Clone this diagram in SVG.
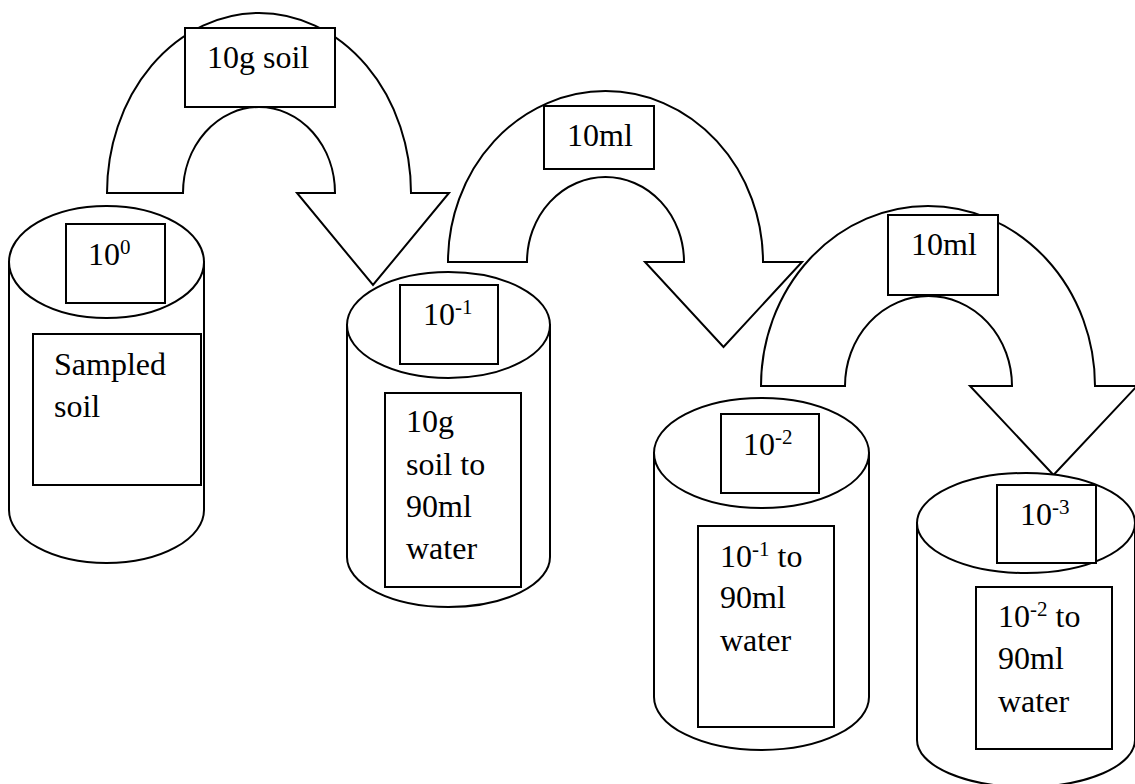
<svg xmlns="http://www.w3.org/2000/svg" width="1135" height="784" viewBox="0 0 1135 784">
<style>
.s{fill:#fff;stroke:#000;stroke-width:2}
.t{font-family:"Liberation Serif","Times New Roman",serif;font-size:32px;fill:#000}
.sup{font-size:21px}
</style>
<rect width="1135" height="784" fill="#fff"/>
<g id="connectors">
<path class="s" d="M107,193 A152,180 0 0 1 411,193 L449,193 L373,285 L297,193 L335,193 A76,86 0 0 0 183,193 Z"/>
<path class="s" d="M448,262 A157.5,171 0 0 1 763,262 L802,262 L723.5,347 L645,262 L684,262 A78.5,85 0 0 0 527,262 Z"/>
<path class="s" d="M761,386 A167,180 0 0 1 1095,386 L1137,386 L1053.5,475 L970,386 L1012,386 A83.5,90 0 0 0 845,386 Z"/>
</g>
<g id="label-10g-soil">
<rect class="s" x="185" y="28" width="150" height="79"/>
<text class="t" x="207" y="68">10g soil</text>
</g>
<g id="label-10ml-1">
<rect class="s" x="544" y="106" width="110" height="63"/>
<text class="t" x="567" y="146">10ml</text>
</g>
<g id="label-10ml-2">
<rect class="s" x="888" y="215" width="110" height="80"/>
<text class="t" x="911" y="255">10ml</text>
</g>
<g id="cyl1">
<path class="s" d="M9,262 L9,510 A97.5,53 0 0 0 204,510 L204,262 Z"/>
<ellipse class="s" cx="106.5" cy="262" rx="97.5" ry="56"/>
<rect class="s" x="66" y="224" width="99" height="79"/>
<text class="t" x="88" y="265">10<tspan class="sup" dy="-11">0</tspan></text>
<rect class="s" x="33" y="334" width="168" height="151"/>
<text class="t" x="54" y="375">Sampled</text>
<text class="t" x="54" y="417">soil</text>
</g>
<g id="cyl2">
<path class="s" d="M347,325 L347,557 A101.5,50 0 0 0 550,557 L550,325 Z"/>
<ellipse class="s" cx="448.5" cy="325" rx="101.5" ry="53"/>
<rect class="s" x="400" y="285" width="98" height="79"/>
<text class="t" x="423" y="325">10<tspan class="sup" dy="-11">-1</tspan></text>
<rect class="s" x="385" y="393" width="136" height="194"/>
<text class="t" x="406" y="432">10g</text>
<text class="t" x="406" y="475">soil to</text>
<text class="t" x="406" y="517">90ml</text>
<text class="t" x="406" y="559">water</text>
</g>
<g id="cyl3">
<path class="s" d="M654,453 L654,697 A107.5,53 0 0 0 869,697 L869,453 Z"/>
<ellipse class="s" cx="761.5" cy="453" rx="107.5" ry="55"/>
<rect class="s" x="721" y="414" width="98" height="79"/>
<text class="t" x="743" y="455">10<tspan class="sup" dy="-11">-2</tspan></text>
<rect class="s" x="698" y="526" width="136" height="201"/>
<text class="t" x="720" y="567">10<tspan class="sup" dy="-11">-1</tspan><tspan dy="11"> to</tspan></text>
<text class="t" x="720" y="608">90ml</text>
<text class="t" x="720" y="651">water</text>
</g>
<g id="cyl4">
<path class="s" d="M917,523 L917,740 A109,47 0 0 0 1135,740 L1135,523 Z"/>
<ellipse class="s" cx="1026" cy="523" rx="109" ry="50"/>
<rect class="s" x="997" y="485" width="99" height="78"/>
<text class="t" x="1020" y="525">10<tspan class="sup" dy="-11">-3</tspan></text>
<rect class="s" x="976" y="587" width="136" height="162"/>
<text class="t" x="998" y="627">10<tspan class="sup" dy="-11">-2</tspan><tspan dy="11"> to</tspan></text>
<text class="t" x="998" y="669">90ml</text>
<text class="t" x="998" y="712">water</text>
</g>
</svg>
